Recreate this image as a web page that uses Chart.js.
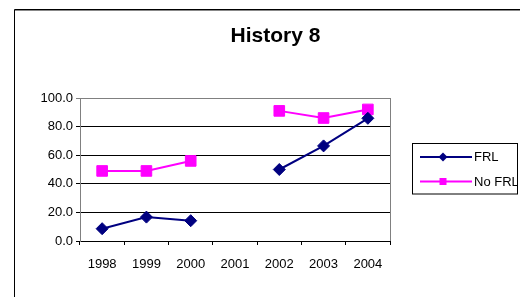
<!DOCTYPE html>
<html><head><meta charset="utf-8">
<script src="https://cdn.jsdelivr.net/npm/chart.js@4/dist/chart.umd.min.js"></script>
<style>html,body{margin:0;padding:0;background:#fff}#wrap{width:520px;height:297px;position:relative}</style>
</head><body><div id="wrap"><canvas id="c" width="520" height="297"></canvas></div>
<script>
const chartTitle = 'History 8';
const categories = ['1998','1999','2000','2001','2002','2003','2004'];
const seriesNames = ['FRL','No FRL'];
const frlValues = [8.6, 16.7, 14.2, null, 50.0, 66.5, 85.8];
const noFrlValues = [49.0, 49.0, 56.0, null, 91.0, 86.0, 92.0];
const yTickValues = [0, 20, 40, 60, 80, 100];

const FONT = "'Liberation Sans', Arial, sans-serif";
Chart.defaults.font.family = FONT;
Chart.defaults.font.size = 13;
Chart.defaults.color = '#000';

const decor = {
  id: 'decor',
  beforeDraw(chart) {
    const ctx = chart.ctx;
    ctx.save();
    ctx.fillStyle = '#fff';
    ctx.fillRect(0, 0, chart.width, chart.height);
    ctx.lineWidth = 1;
    ctx.strokeStyle = '#000';
    ctx.beginPath();
    ctx.moveTo(14.5, 297); ctx.lineTo(14.5, 9.5); ctx.lineTo(520, 9.5);
    ctx.stroke();
    ctx.strokeStyle = '#888';
    ctx.beginPath();
    ctx.moveTo(15, 10.5); ctx.lineTo(520, 10.5);
    ctx.stroke();
    ctx.restore();
  },
  afterDraw(chart) {
    const ctx = chart.ctx;
    const a = chart.chartArea;
    ctx.save();
    ctx.strokeStyle = '#808080';
    ctx.lineWidth = 1;
    ctx.beginPath();
    ctx.moveTo(Math.round(a.right) + 0.5, a.top);
    ctx.lineTo(Math.round(a.right) + 0.5, a.bottom);
    ctx.stroke();
    ctx.fillStyle = '#000';
    ctx.font = 'bold 21px ' + FONT;
    ctx.textAlign = 'center';
    ctx.textBaseline = 'alphabetic';
    ctx.fillText(chartTitle, 275.5, 42);
    const lx = 412.5, ly = 143.5, lw = 105, lh = 50.5;
    ctx.save();
    ctx.beginPath();
    ctx.rect(lx, ly, lw, lh);
    ctx.clip();
    ctx.font = '13px ' + FONT;
    ctx.textAlign = 'left';
    ctx.textBaseline = 'middle';
    const rows = [157, 181.5];
    chart.data.datasets.forEach((ds, i) => {
      const y = rows[i];
      ctx.strokeStyle = ds.borderColor;
      ctx.lineWidth = ds.borderWidth;
      ctx.beginPath();
      ctx.moveTo(420, y); ctx.lineTo(472, y);
      ctx.stroke();
      ctx.fillStyle = ds.pointBackgroundColor;
      ctx.beginPath();
      if (ds.pointStyle === 'rectRot') {
        ctx.moveTo(443 - 4.5, y); ctx.lineTo(443, y - 4.5); ctx.lineTo(443 + 4.5, y); ctx.lineTo(443, y + 4.5);
      } else {
        ctx.rect(443 - 3.5, y - 3.5, 7, 7);
      }
      ctx.closePath();
      ctx.fill();
      ctx.fillStyle = '#000';
      ctx.fillText(ds.label, 474, y + 0.5);
    });
    ctx.restore();
    ctx.strokeStyle = '#000';
    ctx.lineWidth = 1;
    ctx.strokeRect(lx, ly, lw, lh);
    ctx.restore();
  }
};

new Chart(document.getElementById('c'), {
  type: 'line',
  data: {
    labels: categories,
    datasets: [
      {
        label: seriesNames[0], data: frlValues,
        borderColor: '#000080', backgroundColor: '#000080',
        pointBackgroundColor: '#000080', pointBorderColor: '#000080',
        borderWidth: 2, pointStyle: 'rectRot', pointRadius: 6, pointBorderWidth: 1,
        spanGaps: false, tension: 0
      },
      {
        label: seriesNames[1], data: noFrlValues,
        borderColor: '#FF00FF', backgroundColor: '#FF00FF',
        pointBackgroundColor: '#FF00FF', pointBorderColor: '#FF00FF',
        borderWidth: 2, pointStyle: 'rect', pointRadius: 7.5, pointBorderWidth: 1,
        spanGaps: false, tension: 0
      }
    ]
  },
  options: {
    responsive: false,
    devicePixelRatio: 1,
    animation: false,
    layout: { padding: { left: 0, top: 98, right: 130, bottom: 0 } },
    plugins: { legend: { display: false }, title: { display: false }, tooltip: { enabled: false } },
    scales: {
      x: {
        offset: true,
        grid: { offset: true, drawOnChartArea: false, color: '#000', tickLength: 4, lineWidth: 1 },
        border: { color: '#000', width: 1 },
        ticks: { padding: 12, font: { size: 13 }, maxRotation: 0, autoSkip: false },
        afterFit(s) { s.height = 56; }
      },
      y: {
        min: yTickValues[0], max: yTickValues[yTickValues.length - 1],
        afterBuildTicks(s) { s.ticks = yTickValues.map(v => ({ value: v })); },
        grid: {
          color: c => (c.tick && c.tick.value === yTickValues[yTickValues.length - 1]) ? '#808080' : '#000',
          tickLength: 4, lineWidth: 1
        },
        border: { color: '#808080', width: 1 },
        ticks: { padding: 3, font: { size: 13 }, callback: v => Number(v).toFixed(1) },
        afterFit(s) { s.width = 80; }
      }
    }
  },
  plugins: [decor]
});
</script>
</body></html>
